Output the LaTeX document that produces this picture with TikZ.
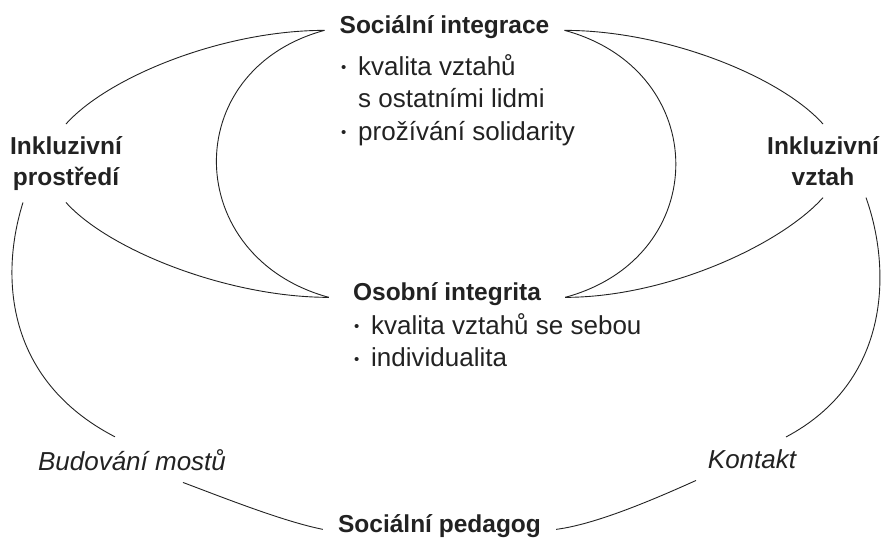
\documentclass[tikz,border=0pt]{standalone}
\usepackage{fontspec}
\setmainfont{Liberation Sans}
\definecolor{ink}{HTML}{222222}
\newcommand{\listdot}{\makebox[17pt][l]{\fontsize{15}{15}\selectfont\raisebox{2.5pt}{•}}}
\newcommand{\listgap}{\hspace*{17pt}}
\tikzset{
  lab/.style={font=\bfseries\fontsize{24.5}{31}\selectfont, text=ink,
    inner xsep=15pt, inner ysep=12pt, align=center},
  items/.style={font=\fontsize{26}{32.5}\selectfont, text=ink,
    inner sep=0pt, align=left, anchor=north west},
  note/.style={font=\itshape\fontsize{26}{31}\selectfont, text=ink,
    inner xsep=0pt, inner ysep=12pt, anchor=base},
  arc/.style={draw=ink, line width=0.9pt}
}
\begin{document}
\begin{tikzpicture}[x=1pt,y=-1pt]
  \useasboundingbox (0,0) rectangle (886,544);
  % labels
  \node[lab, anchor=base] (si) at (444.5,33) {Sociální integrace};
  \node[lab, anchor=base, inner xsep=24pt] (oi) at (447,300) {Osobní integrita};
  \node[lab, anchor=base] (sp) at (439.5,532) {Sociální pedagog};
  \node[lab, anchor=north, inner xsep=0pt] (ip) at (66,124) {Inkluzivní\\prostředí};
  \node[lab, anchor=north, inner xsep=0pt] (iv) at (823,124) {Inkluzivní\\vztah};
  \node[note] (bm) at (132,470) {Budování mostů};
  \node[note] (ko) at (752,468) {Kontakt};
  \node[items] (silist) at (341,54) {\listdot kvalita vztahů\\ \listgap s ostatními lidmi\\ \listdot prožívání solidarity};
  \node[items] (oilist) at (354,313) {\listdot kvalita vztahů se sebou\\ \listdot individualita};
  % left arcs
  \draw[arc] (ip.north) .. controls +(42,-47) and +(-102,0) .. (si.mid west);
  \draw[arc] (si.mid west) .. controls +(-147,40) and +(-147,-40) .. (oi.mid west);
  \draw[arc] (ip.south) .. controls +(42,47) and +(-102,0) .. (oi.mid west);
  \draw[arc] ([xshift=-43]ip.south) .. controls +(-23,73) and +(-110,-57) .. ([xshift=-17]bm.north);
  \draw[arc] ([xshift=51]bm.south) .. controls +(40,15) and +(-40,-8) .. (sp.mid west);
  % right arcs
  \draw[arc] (si.mid east) .. controls +(102,0) and +(-42,-47) .. (iv.north);
  \draw[arc] (si.mid east) .. controls +(148,40) and +(148,-40) .. (oi.mid east);
  \draw[arc] (oi.mid east) .. controls +(102,0) and +(-42,47) .. (iv.south);
  \draw[arc] ([xshift=43]iv.south) .. controls +(26,73) and +(104,-55) .. ([xshift=34]ko.north);
  \draw[arc] ([xshift=-56]ko.south) .. controls +(-40,18) and +(40,-5) .. (sp.mid east);
\end{tikzpicture}
\end{document}
